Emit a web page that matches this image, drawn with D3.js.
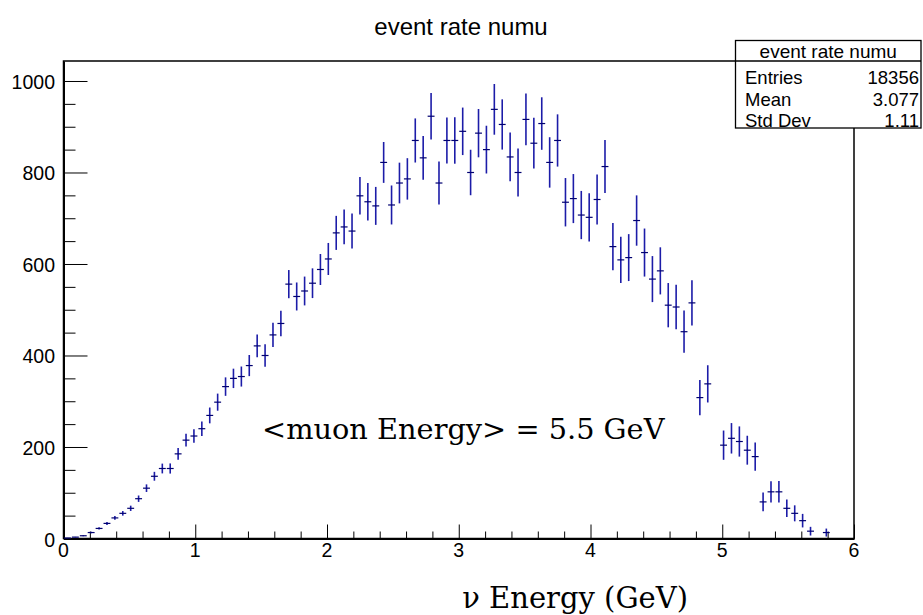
<!DOCTYPE html>
<html>
<head>
<meta charset="utf-8">
<script src="https://cdn.jsdelivr.net/npm/d3@7"></script>
<style>
  html, body { margin: 0; padding: 0; background: #fff; }
  svg { display: block; }
</style>
</head>
<body>
<svg id="chart" width="923" height="615"></svg>
<script>
// ---- data ----
const binLow = 0, binHigh = 6, nBins = 100;
const counts = [
  1, 3, 6, 13, 22, 33, 45, 55, 66, 87,
  110, 136, 153, 153, 185, 215, 224, 240, 269, 298,
  332, 350, 354, 378, 421, 400, 445, 470, 556, 529,
  541, 558, 588, 611, 668, 681, 672, 749, 736, 727,
  822, 729, 777, 786, 870, 832, 923, 777, 870, 870,
  890, 800, 886, 850, 938, 905, 834, 800, 916, 864,
  907, 822, 870, 735, 743, 707, 702, 741, 813, 638,
  609, 614, 695, 625, 567, 585, 510, 506, 452, 515,
  308, 338, 0, 204, 219, 212, 193, 179, 80, 102,
  102, 66, 55, 39, 16, 0, 13, 0, 0, 0
];
const errors = [
  0.2, 0.5, 1.0, 1.7, 2.4, 3.3, 4.2, 5.0, 5.8, 7.0,
  8.3, 9.7, 10.7, 11.1, 12.7, 14.1, 14.9, 15.9, 17.3, 18.7,
  20.2, 21.2, 21.9, 23.1, 24.9, 24.7, 26.6, 27.8, 30.8, 30.6,
  31.5, 32.5, 33.9, 35.0, 37.2, 38.1, 38.4, 41.0, 41.2, 41.5,
  44.7, 42.6, 44.5, 45.3, 48.2, 47.7, 50.7, 47.1, 50.3, 50.8,
  51.9, 49.7, 52.8, 52.2, 55.4, 54.9, 53.2, 52.5, 56.7, 55.5,
  57.4, 55.1, 57.1, 52.9, 53.6, 52.7, 52.9, 54.8, 57.8, 51.6,
  50.8, 51.3, 55.0, 52.5, 50.3, 51.5, 48.4, 48.5, 46.1, 49.6,
  38.6, 40.7, 0, 32.0, 33.3, 33.0, 31.6, 30.7, 20.6, 23.4,
  23.5, 19.0, 17.5, 14.8, 9.5, 0, 8.7, 0, 0, 0
];
const xTicks = [0, 1, 2, 3, 4, 5, 6];
const yTicks = [0, 200, 400, 600, 800, 1000];
const statsLabels = ["Entries", "Mean", "Std Dev"];
const statsValues = ["18356", "3.077", "1.11"];
const titleText = "event rate numu";
const xTitle = "\u03bd Energy (GeV)";
const annotation = "<muon Energy> = 5.5 GeV";

(function () {
  // ---- layout ----
  const svg = d3.select("#chart");
  const pL = 63.5, pR = 854, pT = 61, pB = 538.5;
  const yMax = 1043.7;
  const x = d3.scaleLinear().domain([binLow, binHigh]).range([pL, pR]);
  const y = d3.scaleLinear().domain([0, yMax]).range([pB, pT]);
  const bw = (binHigh - binLow) / nBins;
  const sans = "'Liberation Sans', Arial, Helvetica, sans-serif";
  const serif = "'DejaVu Serif', 'Liberation Serif', serif";

  svg.append("rect").attr("width", 923).attr("height", 615).attr("fill", "#fff");

  // frame
  svg.append("rect")
    .attr("x", pL).attr("y", pT)
    .attr("width", pR - pL).attr("height", pB - pT)
    .attr("fill", "none").attr("stroke", "#000").attr("stroke-width", 1.5);

  // axes (ticks inside, ROOT style)
  const xAxis = d3.axisBottom(x).tickValues(d3.range(0, 6.0001, 0.2)).tickSize(0).tickFormat("");
  const gx = svg.append("g").attr("transform", `translate(0,${pB})`).call(xAxis);
  gx.select(".domain").attr("stroke", "#000").attr("stroke-width", 2);
  gx.selectAll(".tick line").remove();
  gx.selectAll(".tick").append("line")
    .attr("y1", 0)
    .attr("y2", d => (Math.abs(d - Math.round(d)) < 1e-6 ? -14 : -7))
    .attr("stroke", "#000").attr("stroke-width", 1);

  svg.append("g").selectAll("text").data(xTicks).join("text")
    .attr("x", d => x(d)).attr("y", 557)
    .attr("text-anchor", "middle")
    .attr("font-family", sans).attr("font-size", 19.5)
    .text(d => d);

  const yAxis = d3.axisLeft(y).tickValues(d3.range(0, 1001, 50)).tickSize(0).tickFormat("");
  const gy = svg.append("g").attr("transform", `translate(${pL},0)`).call(yAxis);
  gy.select(".domain").attr("stroke", "#000").attr("stroke-width", 2);
  gy.selectAll(".tick line").remove();
  gy.selectAll(".tick").append("line")
    .attr("x1", 0)
    .attr("x2", d => (d % 200 === 0 ? 24 : 12))
    .attr("stroke", "#000").attr("stroke-width", 1);

  svg.append("g").selectAll("text").data(yTicks).join("text")
    .attr("x", 55).attr("y", d => y(d) + 8)
    .attr("text-anchor", "end")
    .attr("font-family", sans).attr("font-size", 19.5)
    .text(d => d);

  // histogram points with error bars
  const pts = counts.map((v, i) => ({ v, e: errors[i], lo: binLow + i * bw, hi: binLow + (i + 1) * bw, c: binLow + (i + 0.5) * bw }))
    .filter(d => d.v > 0);
  const gp = svg.append("g");
  gp.selectAll("line.v").data(pts).join("line")
    .attr("class", "v")
    .attr("x1", d => x(d.c)).attr("x2", d => x(d.c))
    .attr("y1", d => y(Math.max(0, d.v - d.e))).attr("y2", d => y(d.v + d.e))
    .attr("stroke", "#1c1ca8").attr("stroke-width", 1.6);
  gp.selectAll("line.h").data(pts).join("line")
    .attr("class", "h")
    .attr("x1", d => x(d.lo) + 0.5).attr("x2", d => x(d.hi) - 0.5)
    .attr("y1", d => y(d.v)).attr("y2", d => y(d.v))
    .attr("stroke", "#000070").attr("stroke-width", 1.2);

  // title
  svg.append("text")
    .attr("x", 461).attr("y", 35)
    .attr("text-anchor", "middle")
    .attr("font-family", sans).attr("font-size", 24)
    .text(titleText);

  // annotation
  svg.append("text")
    .attr("x", 262).attr("y", 439)
    .attr("font-family", serif).attr("font-size", 28.8)
    .text(annotation);

  // x-axis title
  svg.append("text")
    .attr("x", 688).attr("y", 608)
    .attr("text-anchor", "end")
    .attr("font-family", serif).attr("font-size", 29)
    .text(xTitle);

  // stats box
  const sb = { x0: 735.5, x1: 921, y0: 40.5, y1: 128, sep: 61 };
  const gs = svg.append("g");
  gs.append("rect")
    .attr("x", sb.x0).attr("y", sb.y0)
    .attr("width", sb.x1 - sb.x0).attr("height", sb.y1 - sb.y0)
    .attr("fill", "#fff").attr("stroke", "#000").attr("stroke-width", 1.3);
  gs.append("line")
    .attr("x1", sb.x0).attr("x2", sb.x1).attr("y1", sb.sep).attr("y2", sb.sep)
    .attr("stroke", "#000").attr("stroke-width", 1.3);
  gs.append("text")
    .attr("x", (sb.x0 + sb.x1) / 2).attr("y", 58)
    .attr("text-anchor", "middle")
    .attr("font-family", sans).attr("font-size", 19)
    .text(titleText);
  const rowY = [83.5, 105.5, 126.5];
  gs.selectAll("text.lab").data(statsLabels).join("text")
    .attr("class", "lab")
    .attr("x", 745).attr("y", (d, i) => rowY[i])
    .attr("font-family", sans).attr("font-size", 18.5)
    .text(d => d);
  gs.selectAll("text.val").data(statsValues).join("text")
    .attr("class", "val")
    .attr("x", 919).attr("y", (d, i) => rowY[i])
    .attr("text-anchor", "end")
    .attr("font-family", sans).attr("font-size", 18.5)
    .text(d => d);
})();
</script>
</body>
</html>
